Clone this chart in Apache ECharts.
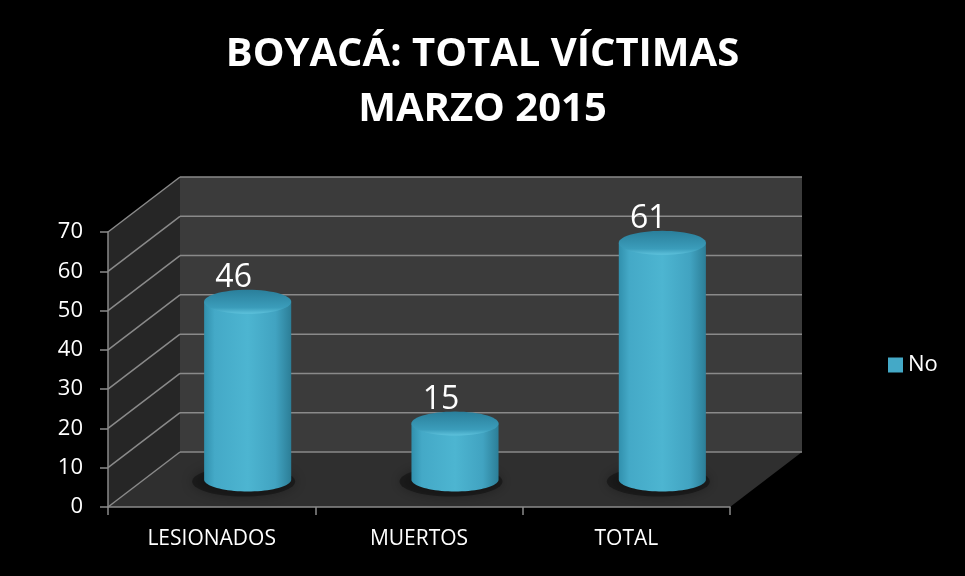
<!DOCTYPE html>
<html>
<head>
<meta charset="utf-8">
<script src="https://cdn.jsdelivr.net/npm/echarts@6/dist/echarts.min.js"></script>
<style>
  html, body { margin: 0; padding: 0; background: #000; }
  #main { width: 965px; height: 576px; }
</style>
</head>
<body>
<div id="main"></div>
<script>
// data
const categories = ['LESIONADOS', 'MUERTOS', 'TOTAL'];
const values = [46, 15, 61];
const seriesName = 'No';
const yMin = 0;
const yMax = 70;
const yStep = 10;

// pseudo 3d depth of the chart box (px, right / up)
const DEPTH = [72, -55];
const FONT = '"Open Sans", "Liberation Sans", sans-serif';
const LINE = '#8a8a8a';

function ellipsePts(cx, cy, rx, ry, from, to, n) {
  const pts = [];
  for (let k = 0; k <= n; k++) {
    const t = from + (to - from) * k / n;
    pts.push([cx + rx * Math.cos(t), cy + ry * Math.sin(t)]);
  }
  return pts;
}

// back wall, side wall, floor and their grid lines
function renderFrame(params, api) {
  const cs = params.coordSys;
  const dx = DEPTH[0], dy = DEPTH[1];
  const x0 = cs.x, x1 = cs.x + cs.width;
  const yTop = cs.y, yBot = cs.y + cs.height;
  const children = [
    { type: 'rect', shape: { x: x0 + dx, y: yTop + dy, width: cs.width, height: cs.height },
      style: { fill: '#3b3b3b' } },
    { type: 'polygon', shape: { points: [[x0, yTop], [x0 + dx, yTop + dy], [x0 + dx, yBot + dy], [x0, yBot]] },
      style: { fill: '#262626' } },
    { type: 'polygon', shape: { points: [[x0, yBot], [x0 + dx, yBot + dy], [x1 + dx, yBot + dy], [x1, yBot]] },
      style: { fill: '#2f2f2f' } }
  ];
  for (let v = yMin; v <= yMax; v += yStep) {
    const y = api.coord([0, v])[1];
    children.push({ type: 'line', shape: { x1: x0 + dx, y1: y + dy, x2: x1 + dx, y2: y + dy },
      style: { stroke: LINE, lineWidth: 1.5 } });
    children.push({ type: 'line', shape: { x1: x0, y1: y, x2: x0 + dx, y2: y + dy },
      style: { stroke: LINE, lineWidth: 1.5 } });
  }
  return { type: 'group', children: children };
}

function renderCylinder(params, api) {
  const i = api.value(0), v = api.value(1);
  const base = api.coord([i, 0]);
  const top = api.coord([i, v]);
  const cx = base[0] + DEPTH[0] * 0.5;
  const by = base[1] + DEPTH[1] * 0.5;
  const ty = top[1] + DEPTH[1] * 0.5 + 3;
  const rx = api.size([1, 0])[0] * 0.21;
  const ry = 12;

  const body = [[cx - rx, ty]]
    .concat(ellipsePts(cx, by, rx, ry, Math.PI, 0, 40))
    .concat([[cx + rx, ty]]);

  return {
    type: 'group',
    children: [
      { type: 'polygon', shape: { points: ellipsePts(cx - 4, by + 2, rx + 8, ry + 3, 0, Math.PI * 2, 60) },
        style: { fill: 'rgba(0,0,0,0.35)', shadowBlur: 12, shadowColor: 'rgba(0,0,0,0.8)' } },
      { type: 'polygon', shape: { points: body },
        style: { fill: new echarts.graphic.LinearGradient(0, 0, 1, 0, [
          { offset: 0, color: '#3190ad' },
          { offset: 0.12, color: '#44a9c7' },
          { offset: 0.5, color: '#4db5d1' },
          { offset: 0.82, color: '#41a3c1' },
          { offset: 1, color: '#2c7e97' }
        ]) } },
      { type: 'polygon', shape: { points: ellipsePts(cx, ty, rx, ry, 0, Math.PI * 2, 60) },
        style: { fill: new echarts.graphic.LinearGradient(0, 0, 0, 1, [
          { offset: 0, color: '#2a7f9b' },
          { offset: 0.75, color: '#3b9dbb' },
          { offset: 1, color: '#5ec2dc' }
        ]) } },
      { type: 'text', x: cx - 14, y: ty - ry + 4,
        style: { text: String(v), fill: '#ffffff', font: '32px ' + FONT,
          textAlign: 'center', align: 'center', textVerticalAlign: 'bottom', verticalAlign: 'bottom' } }
    ]
  };
}

const chart = echarts.init(document.getElementById('main'));
chart.setOption({
  backgroundColor: '#000000',
  animation: false,
  title: {
    text: 'BOYACÁ: TOTAL VÍCTIMAS\nMARZO 2015',
    left: 'center',
    top: 22,
    textStyle: { color: '#ffffff', fontSize: 40, fontWeight: 'bold', fontFamily: FONT, lineHeight: 55 }
  },
  legend: {
    data: [{ name: seriesName, icon: 'rect' }],
    left: 883,
    top: 349,
    itemWidth: 15,
    itemHeight: 15,
    itemGap: 7,
    textStyle: { color: '#ffffff', fontSize: 22, fontFamily: FONT }
  },
  grid: { left: 108, right: 235, top: 232, bottom: 69, containLabel: false, outerBoundsMode: 'none' },
  xAxis: {
    type: 'category',
    data: categories,
    boundaryGap: true,
    axisLine: { show: true, lineStyle: { color: LINE, width: 1.5 } },
    axisTick: { show: true, length: 8, lineStyle: { color: LINE, width: 1.5 } },
    axisLabel: { color: '#ffffff', fontSize: 21, fontFamily: FONT, margin: 22 },
    splitLine: { show: false }
  },
  yAxis: {
    type: 'value',
    min: yMin,
    max: yMax,
    interval: yStep,
    axisLine: { show: true, lineStyle: { color: LINE, width: 1.5 } },
    axisTick: { show: true, length: 8, lineStyle: { color: LINE, width: 1.5 } },
    axisLabel: { color: '#ffffff', fontSize: 22, fontFamily: FONT, margin: 25 },
    splitLine: { show: false }
  },
  series: [
    {
      type: 'custom',
      name: 'frame',
      z: -1,
      clip: false,
      silent: true,
      renderItem: renderFrame,
      data: [[0, 0]]
    },
    {
      type: 'custom',
      name: seriesName,
      z: 3,
      clip: false,
      itemStyle: { color: '#44a9c7' },
      renderItem: renderCylinder,
      data: values.map(function (v, i) { return [i, v]; })
    }
  ]
});
</script>
</body>
</html>
